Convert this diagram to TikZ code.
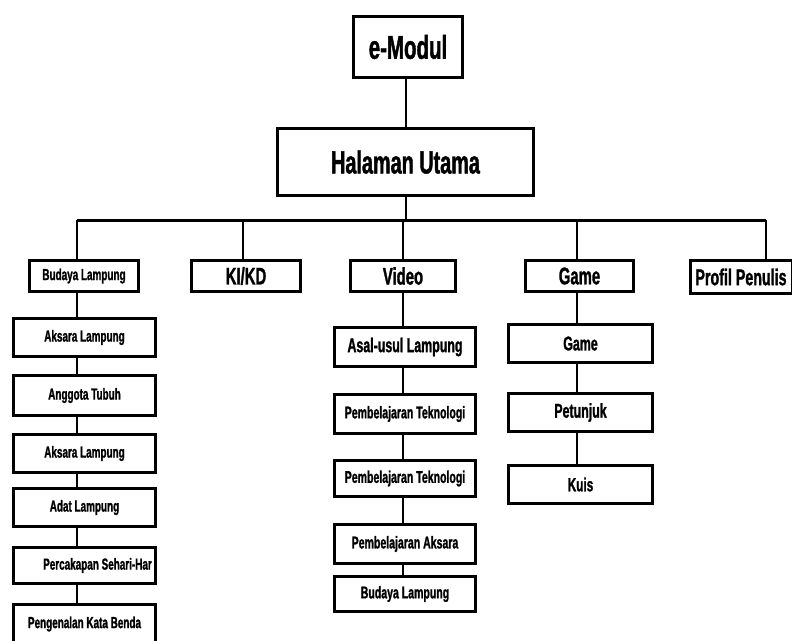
\documentclass[tikz,border=0pt]{standalone}
\usepackage{fontspec}
\newfontfamily\condfont{Liberation Sans Bold}[FakeStretch=0.62,FakeBold=1.2]
\begin{document}
\begin{tikzpicture}[x=1pt,y=-1pt,
	kotak/.style 2 args={draw,line width=3pt,fill=white,inner sep=0pt,minimum width=#1,minimum height=#2},
	huruf/.style={font=\condfont\fontsize{#1}{#1}\selectfont},
	garis/.style={line width=2pt}]
	\useasboundingbox (0,0) rectangle (792,640);
	
	\node[kotak={109}{61},huruf=33] (emodul) at (408,47) {e-Modul};
	\node[kotak={256}{67},huruf=32] (hal) at (405.5,162) {Halaman Utama};
	\coordinate (kiri) at (77,220);
	\coordinate (kanan) at (766,220);
	
	% level pertama
	\node[kotak={109}{31},huruf=16] (budaya) at (84,276) {Budaya Lampung};
	\node[kotak={109}{31},huruf=24] (kikd) at (246,276) {KI/KD};
	\node[kotak={105}{31},huruf=24] (video) at (403,276) {Video};
	\node[kotak={108}{31},huruf=24] (game) at (579.5,276) {Game};
	\node[kotak={102}{33},huruf=23] (profil) at (741,277) {Profil Penulis};
	
	% kolom budaya
	\foreach \nama/\teks/\y/\h in {aks1/Aksara Lampung/337.5/38,angg/Anggota Tubuh/395.5/40,aks2/Aksara Lampung/453.5/38,adat/Adat Lampung/507.5/38,kata/Pengenalan Kata Benda/624/39}
	\node[kotak={142}{\h},huruf=16] (\nama) at (84.5,\y) {\teks};
	\node[kotak={142}{36},huruf=16] (cakap) at (84.5,565.5) {\hspace*{26pt}\raisebox{-4pt}{Percakapan Sehari-Har}};
	
	% kolom video
	\foreach \nama/\teks/\y/\h/\f in {asal/Asal-usul Lampung/347/39/20,pt1/Pembelajaran Teknologi/414/39/17,pt2/Pembelajaran Teknologi/478.5/36/17,pa/Pembelajaran Aksara/544/39/17,bl/Budaya Lampung/594/35/17}
	\node[kotak={141}{\h},huruf=\f] (\nama) at (405,\y) {\teks};
	
	% kolom game
	\foreach \nama/\teks/\y/\f in {game2/Game/343.5/20,petunjuk/Petunjuk/412.5/20,kuis/Kuis/484.5/19}
	\node[kotak={144}{38},huruf=\f] (\nama) at (580.5,\y) {\teks};
	
	% garis
	\draw[garis] (emodul.south -| hal.north) -- (hal.north);
	\draw[garis] (hal.south) -- (hal.south |- kiri);
	\draw[line width=3pt] (kiri) -- (kanan);
	\foreach \x/\n in {77/budaya,243/kikd,403/video,577/game,766/profil}{
		\coordinate (t\n) at (\x,220);
		\draw[garis] (t\n) -- (t\n |- \n.north);
	}
	\foreach \a/\b in {budaya/aks1,aks1/angg,angg/aks2,aks2/adat,adat/cakap,cakap/kata}
	\draw[garis] (\a.south -| kiri) -- (\b.north -| kiri);
	\foreach \a/\b in {video/asal,asal/pt1,pt1/pt2,pt2/pa,pa/bl}
	\draw[garis] (\a.south -| tvideo) -- (\b.north -| tvideo);
	\foreach \a/\b in {game/game2,game2/petunjuk,petunjuk/kuis}
	\draw[garis] (\a.south -| tgame) -- (\b.north -| tgame);
\end{tikzpicture}
\end{document}
